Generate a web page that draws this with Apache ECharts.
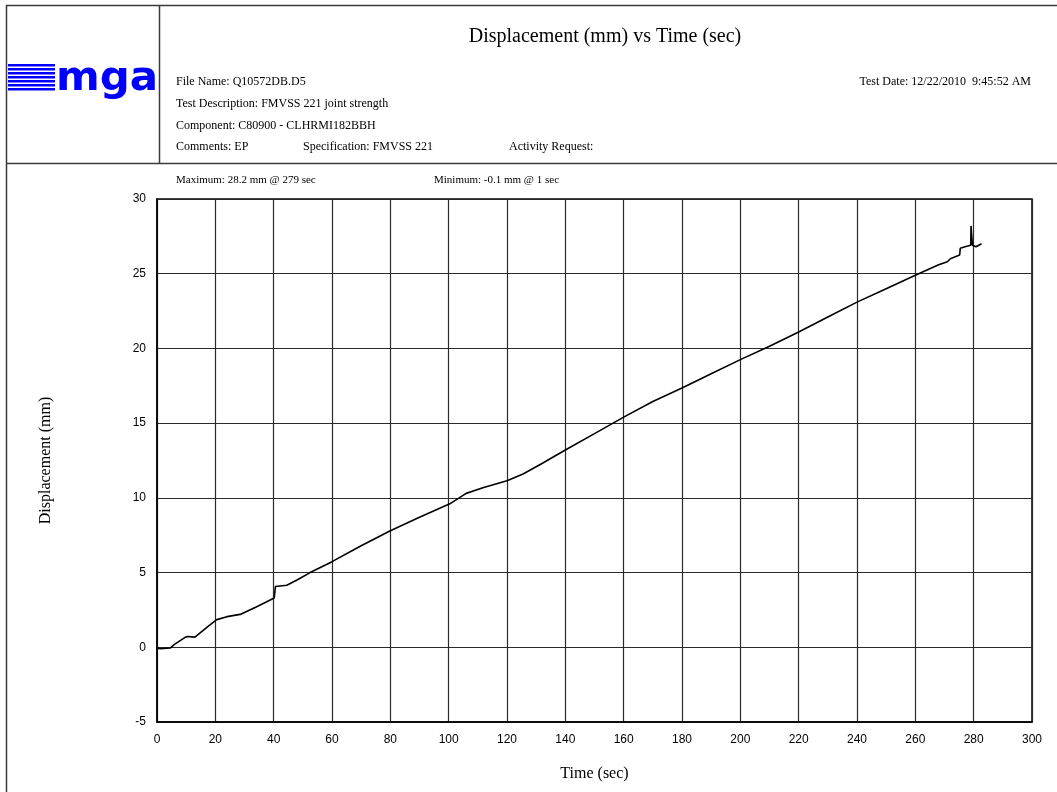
<!DOCTYPE html>
<html>
<head>
<meta charset="utf-8">
<script src="https://cdn.jsdelivr.net/npm/echarts@6/dist/echarts.min.js"></script>
<style>
html,body{margin:0;padding:0;background:#fff;}
#chart{width:1057px;height:792px;}
</style>
</head>
<body>
<div id="chart"></div>
<script>
// Time (sec) readings
var timeSec = [0, 1, 4.5, 6, 9.5, 10.5, 13, 15, 17.5, 20.5, 24, 28.5, 34, 40.2, 40.6, 44.5, 48, 52.5, 60, 70, 80, 90, 100.4, 106, 112, 120, 125.5, 132, 140, 150, 160, 170, 180, 190, 200, 210, 220, 230, 240, 250, 260, 268, 271, 272, 275.2, 275.4, 277, 279, 279.1, 279.3, 279.6, 280.8, 282.7];
// Displacement (mm) readings
var dispMm = [-0.05, -0.1, -0.05, 0.2, 0.65, 0.72, 0.68, 1.0, 1.4, 1.85, 2.05, 2.2, 2.7, 3.3, 4.07, 4.15, 4.5, 5.0, 5.73, 6.8, 7.8, 8.7, 9.6, 10.3, 10.7, 11.15, 11.6, 12.3, 13.2, 14.3, 15.4, 16.45, 17.35, 18.3, 19.25, 20.15, 21.1, 22.1, 23.1, 24.0, 24.9, 25.6, 25.8, 26.0, 26.25, 26.7, 26.8, 26.9, 28.2, 27.6, 26.9, 26.8, 27.0];
var xTicks = {min: 0, max: 300, step: 20};
var yTicks = {min: -5, max: 30, step: 5};

var titleText = 'Displacement (mm) vs Time (sec)';
var xName = 'Time (sec)';
var yName = 'Displacement (mm)';
var maxNote = 'Maximum: 28.2 mm @ 279 sec';
var minNote = 'Minimum: -0.1 mm @ 1 sec';

var pts = timeSec.map(function (t, i) { return [t, dispMm[i]]; });

var serif = "'Liberation Serif', 'DejaVu Serif', serif";
var hdrLine = '#3a3a3a';
var stripes = [];
for (var k = 0; k < 7; k++) {
  stripes.push({type: 'rect', shape: {x: 8, y: 64 + k * 4, width: 47, height: 2.6}, style: {fill: '#0000ff'}, silent: true});
}

var chart = echarts.init(document.getElementById('chart'), null, {renderer: 'canvas'});
chart.setOption({
  animation: false,
  backgroundColor: '#fff',
  grid: {left: 157, right: 25, top: 199, bottom: 70, show: true, borderColor: '#000', borderWidth: 1.5},
  xAxis: {
    type: 'value', min: xTicks.min, max: xTicks.max, interval: xTicks.step,
    name: xName, nameLocation: 'middle', nameGap: 44,
    nameTextStyle: {fontFamily: serif, fontSize: 16, color: '#000'},
    axisLine: {show: true, onZero: false, lineStyle: {color: '#000', width: 1.5}},
    axisTick: {show: false},
    axisLabel: {color: '#000', fontSize: 12, fontFamily: "'Liberation Sans', Arial, sans-serif", margin: 12},
    splitLine: {show: true, lineStyle: {color: '#2a2a2a', width: 1.2}}
  },
  yAxis: {
    type: 'value', min: yTicks.min, max: yTicks.max, interval: yTicks.step,
    name: yName, nameLocation: 'middle', nameGap: 103, nameRotate: 90,
    nameTextStyle: {fontFamily: serif, fontSize: 16, color: '#000'},
    axisLine: {show: true, onZero: false, lineStyle: {color: '#000', width: 1.5}},
    axisTick: {show: false},
    axisLabel: {color: '#000', fontSize: 12, fontFamily: "'Liberation Sans', Arial, sans-serif", margin: 11},
    splitLine: {show: true, lineStyle: {color: '#2a2a2a', width: 1.2}}
  },
  series: [{
    type: 'line', data: pts, showSymbol: false, symbol: 'none', smooth: false,
    lineStyle: {color: '#000', width: 1.6}, z: 5
  }],
  graphic: [
    {type: 'line', shape: {x1: 6, y1: 5.5, x2: 1057, y2: 5.5}, style: {stroke: hdrLine, lineWidth: 1.5}, silent: true},
    {type: 'line', shape: {x1: 6.5, y1: 5, x2: 6.5, y2: 792}, style: {stroke: hdrLine, lineWidth: 1.5}, silent: true},
    {type: 'line', shape: {x1: 159.5, y1: 5, x2: 159.5, y2: 163}, style: {stroke: hdrLine, lineWidth: 1.5}, silent: true},
    {type: 'line', shape: {x1: 6, y1: 163.5, x2: 1057, y2: 163.5}, style: {stroke: hdrLine, lineWidth: 1.5}, silent: true}
  ].concat(stripes).concat([
    {type: 'text', x: 56, y: 80, scaleX: 1.05, silent: true,
     style: {text: 'mga', fill: '#0000ff', font: "bold 40px 'DejaVu Sans', sans-serif", textVerticalAlign: 'middle'}},
    {type: 'text', x: 605, y: 37, silent: true,
     style: {text: titleText, fill: '#000', font: "20px " + serif, textAlign: 'center', textVerticalAlign: 'middle'}},
    {type: 'text', x: 176, y: 82, silent: true,
     style: {text: 'File Name: Q10572DB.D5', fill: '#000', font: "12px " + serif, textVerticalAlign: 'middle'}},
    {type: 'text', x: 1031, y: 82, silent: true,
     style: {text: 'Test Date: 12/22/2010  9:45:52 AM', fill: '#000', font: "12px " + serif, textAlign: 'right', textVerticalAlign: 'middle'}},
    {type: 'text', x: 176, y: 104, silent: true,
     style: {text: 'Test Description: FMVSS 221 joint strength', fill: '#000', font: "12px " + serif, textVerticalAlign: 'middle'}},
    {type: 'text', x: 176, y: 126, silent: true,
     style: {text: 'Component: C80900 - CLHRMI182BBH', fill: '#000', font: "12px " + serif, textVerticalAlign: 'middle'}},
    {type: 'text', x: 176, y: 147, silent: true,
     style: {text: 'Comments: EP', fill: '#000', font: "12px " + serif, textVerticalAlign: 'middle'}},
    {type: 'text', x: 303, y: 147, silent: true,
     style: {text: 'Specification: FMVSS 221', fill: '#000', font: "12px " + serif, textVerticalAlign: 'middle'}},
    {type: 'text', x: 509, y: 147, silent: true,
     style: {text: 'Activity Request:', fill: '#000', font: "12px " + serif, textVerticalAlign: 'middle'}},
    {type: 'text', x: 176, y: 180, silent: true,
     style: {text: maxNote, fill: '#000', font: "11px " + serif, textVerticalAlign: 'middle'}},
    {type: 'text', x: 434, y: 180, silent: true,
     style: {text: minNote, fill: '#000', font: "11px " + serif, textVerticalAlign: 'middle'}}
  ])
});
</script>
</body>
</html>
